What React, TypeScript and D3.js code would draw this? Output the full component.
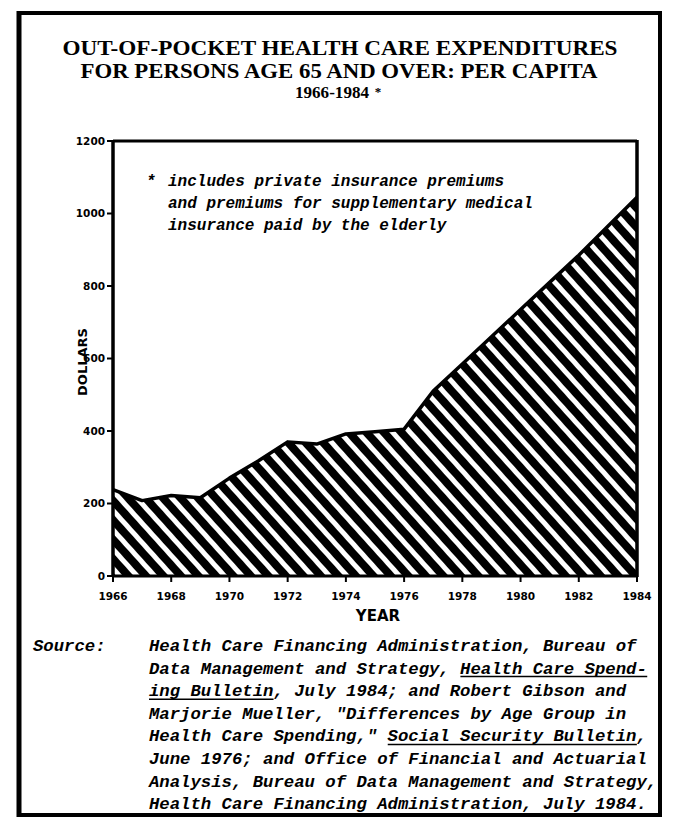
import React from "react";
import * as d3 from "d3";

const years = [1966, 1967, 1968, 1969, 1970, 1971, 1972, 1973, 1974, 1975, 1976, 1977, 1978, 1979, 1980, 1981, 1982, 1983, 1984];
const dollars = [238, 208, 222, 216, 270, 318, 370, 364, 392, 398, 405, 510, 585, 660, 735, 810, 885, 965, 1045];
const yTicks = [0, 200, 400, 600, 800, 1000, 1200];
const xTicks = [1966, 1968, 1970, 1972, 1974, 1976, 1978, 1980, 1982, 1984];
const titleLines = [
  "OUT-OF-POCKET HEALTH CARE EXPENDITURES",
  "FOR PERSONS AGE 65 AND OVER: PER CAPITA",
];
const titleYears = "1966-1984";
const footnoteLines = [
  "includes private insurance premiums",
  "and premiums for supplementary medical",
  "insurance paid by the elderly",
];
const sourceLines = [
  "Health Care Financing Administration, Bureau of",
  "Data Management and Strategy, Health Care Spend-",
  "ing Bulletin, July 1984; and Robert Gibson and",
  "Marjorie Mueller, \"Differences by Age Group in",
  "Health Care Spending,\" Social Security Bulletin,",
  "June 1976; and Office of Financial and Actuarial",
  "Analysis, Bureau of Data Management and Strategy,",
  "Health Care Financing Administration, July 1984.",
];
const underlines: [number, string][] = [
  [1, "Health Care Spend-"],
  [2, "ing Bulletin"],
  [4, "Social Security Bulletin"],
];

const W = 675;
const H = 819;
const M = { left: 113, right: 637, top: 141, bottom: 576 };

export default function App() {
  const x = d3.scaleLinear().domain([1966, 1984]).range([M.left, M.right]);
  const y = d3.scaleLinear().domain([0, 1200]).range([M.bottom, M.top]);
  const data = years.map((yr, i) => ({ yr, v: dollars[i] }));
  const area = d3.area<{ yr: number; v: number }>().x(d => x(d.yr)).y0(y(0)).y1(d => y(d.v));
  const line = d3.line<{ yr: number; v: number }>().x(d => x(d.yr)).y(d => y(d.v));

  const monoFont = "'Liberation Mono', 'DejaVu Sans Mono', monospace";
  const srcSize = 17.3;
  const charW = srcSize * 0.6;
  const srcX = 149;
  const srcY0 = 651;
  const srcDy = 22.6;

  return (
    <svg width={W} height={H} style={{ display: "block", position: "absolute", left: 0, top: 0, background: "#fff" }}>
      <defs>
        <pattern id="hatch" patternUnits="userSpaceOnUse" width="10" height="13" patternTransform="rotate(48)">
          <rect x="0" y="0" width="10" height="13" fill="#fff" />
          <rect x="0" y="0" width="10" height="8" fill="#000" />
        </pattern>
      </defs>
      <rect x={0} y={0} width={W} height={H} fill="#fff" />
      {/* outer frame */}
      <line x1={17} y1={13} x2={662} y2={13} stroke="#000" strokeWidth={4} />
      <line x1={19} y1={11} x2={19} y2={817} stroke="#000" strokeWidth={5} />
      <line x1={660} y1={11} x2={660} y2={817} stroke="#000" strokeWidth={4} />
      <line x1={17} y1={815} x2={662} y2={815} stroke="#000" strokeWidth={4} />

      {/* title */}
      <g fontFamily="'Liberation Serif', 'DejaVu Serif', serif" fontWeight="bold" textAnchor="middle" fill="#000">
        <text x={340} y={55} fontSize={20.5} textLength={555} lengthAdjust="spacingAndGlyphs">{titleLines[0]}</text>
        <text x={339} y={78} fontSize={20.5} textLength={517} lengthAdjust="spacingAndGlyphs">{titleLines[1]}</text>
        <text x={332} y={98} fontSize={16} textLength={74} lengthAdjust="spacingAndGlyphs">{titleYears}</text>
        <text x={378} y={96} fontSize={13}>*</text>
      </g>

      {/* area */}
      <path d={area(data) || ""} fill="url(#hatch)" />
      <path d={line(data) || ""} fill="none" stroke="#000" strokeWidth={3.5} strokeLinejoin="round" />

      {/* plot frame */}
      <line x1={M.left} y1={M.top} x2={M.right} y2={M.top} stroke="#000" strokeWidth={3} />
      <line x1={M.left} y1={M.top - 1} x2={M.left} y2={M.bottom + 1} stroke="#000" strokeWidth={3.5} />
      <line x1={M.right} y1={M.top - 1} x2={M.right} y2={M.bottom + 1} stroke="#000" strokeWidth={3.5} />
      <line x1={M.left} y1={M.bottom} x2={M.right} y2={M.bottom} stroke="#000" strokeWidth={3} />

      {/* ticks */}
      <g fontFamily="'DejaVu Sans', sans-serif" fontWeight="bold" fontSize={10.5} fill="#000">
        {yTicks.map(t => (
          <g key={t}>
            <line x1={M.left - 6} x2={M.left} y1={y(t)} y2={y(t)} stroke="#000" strokeWidth={2} />
            <text x={M.left - 8} y={y(t)} dy="0.35em" textAnchor="end">{t}</text>
          </g>
        ))}
        {xTicks.map(t => (
          <g key={t}>
            <line x1={x(t)} x2={x(t)} y1={M.bottom} y2={M.bottom + 6} stroke="#000" strokeWidth={2} />
            <text x={x(t)} y={M.bottom + 24} textAnchor="middle">{t}</text>
          </g>
        ))}
      </g>
      <text x={378} y={621} textAnchor="middle" fontFamily="'DejaVu Sans', sans-serif" fontWeight="bold" fontSize={15}>YEAR</text>
      <text transform={`translate(87,${362}) rotate(-90)`} textAnchor="middle" fontFamily="'DejaVu Sans', sans-serif" fontWeight="bold" fontSize={13}>DOLLARS</text>

      {/* footnote */}
      <g fontFamily={monoFont} fontWeight="bold" fontStyle="italic" fontSize={16} fill="#000">
        <text x={146} y={186}>*</text>
        {footnoteLines.map((l, i) => (
          <text key={i} x={168} y={186 + i * 22}>{l}</text>
        ))}
      </g>

      {/* source */}
      <g fontFamily={monoFont} fontWeight="bold" fontStyle="italic" fontSize={srcSize} fill="#000">
        <text x={33} y={srcY0}>Source:</text>
        {sourceLines.map((l, i) => (
          <text key={i} x={srcX} y={srcY0 + i * srcDy}>{l}</text>
        ))}
        {underlines.map(([li, s], k) => {
          const idx = sourceLines[li].indexOf(s);
          const x1 = srcX + idx * charW;
          const x2 = x1 + s.length * charW;
          const yy = srcY0 + li * srcDy + 3;
          return <line key={k} x1={x1} x2={x2} y1={yy} y2={yy} stroke="#000" strokeWidth={1.5} />;
        })}
      </g>
    </svg>
  );
}
